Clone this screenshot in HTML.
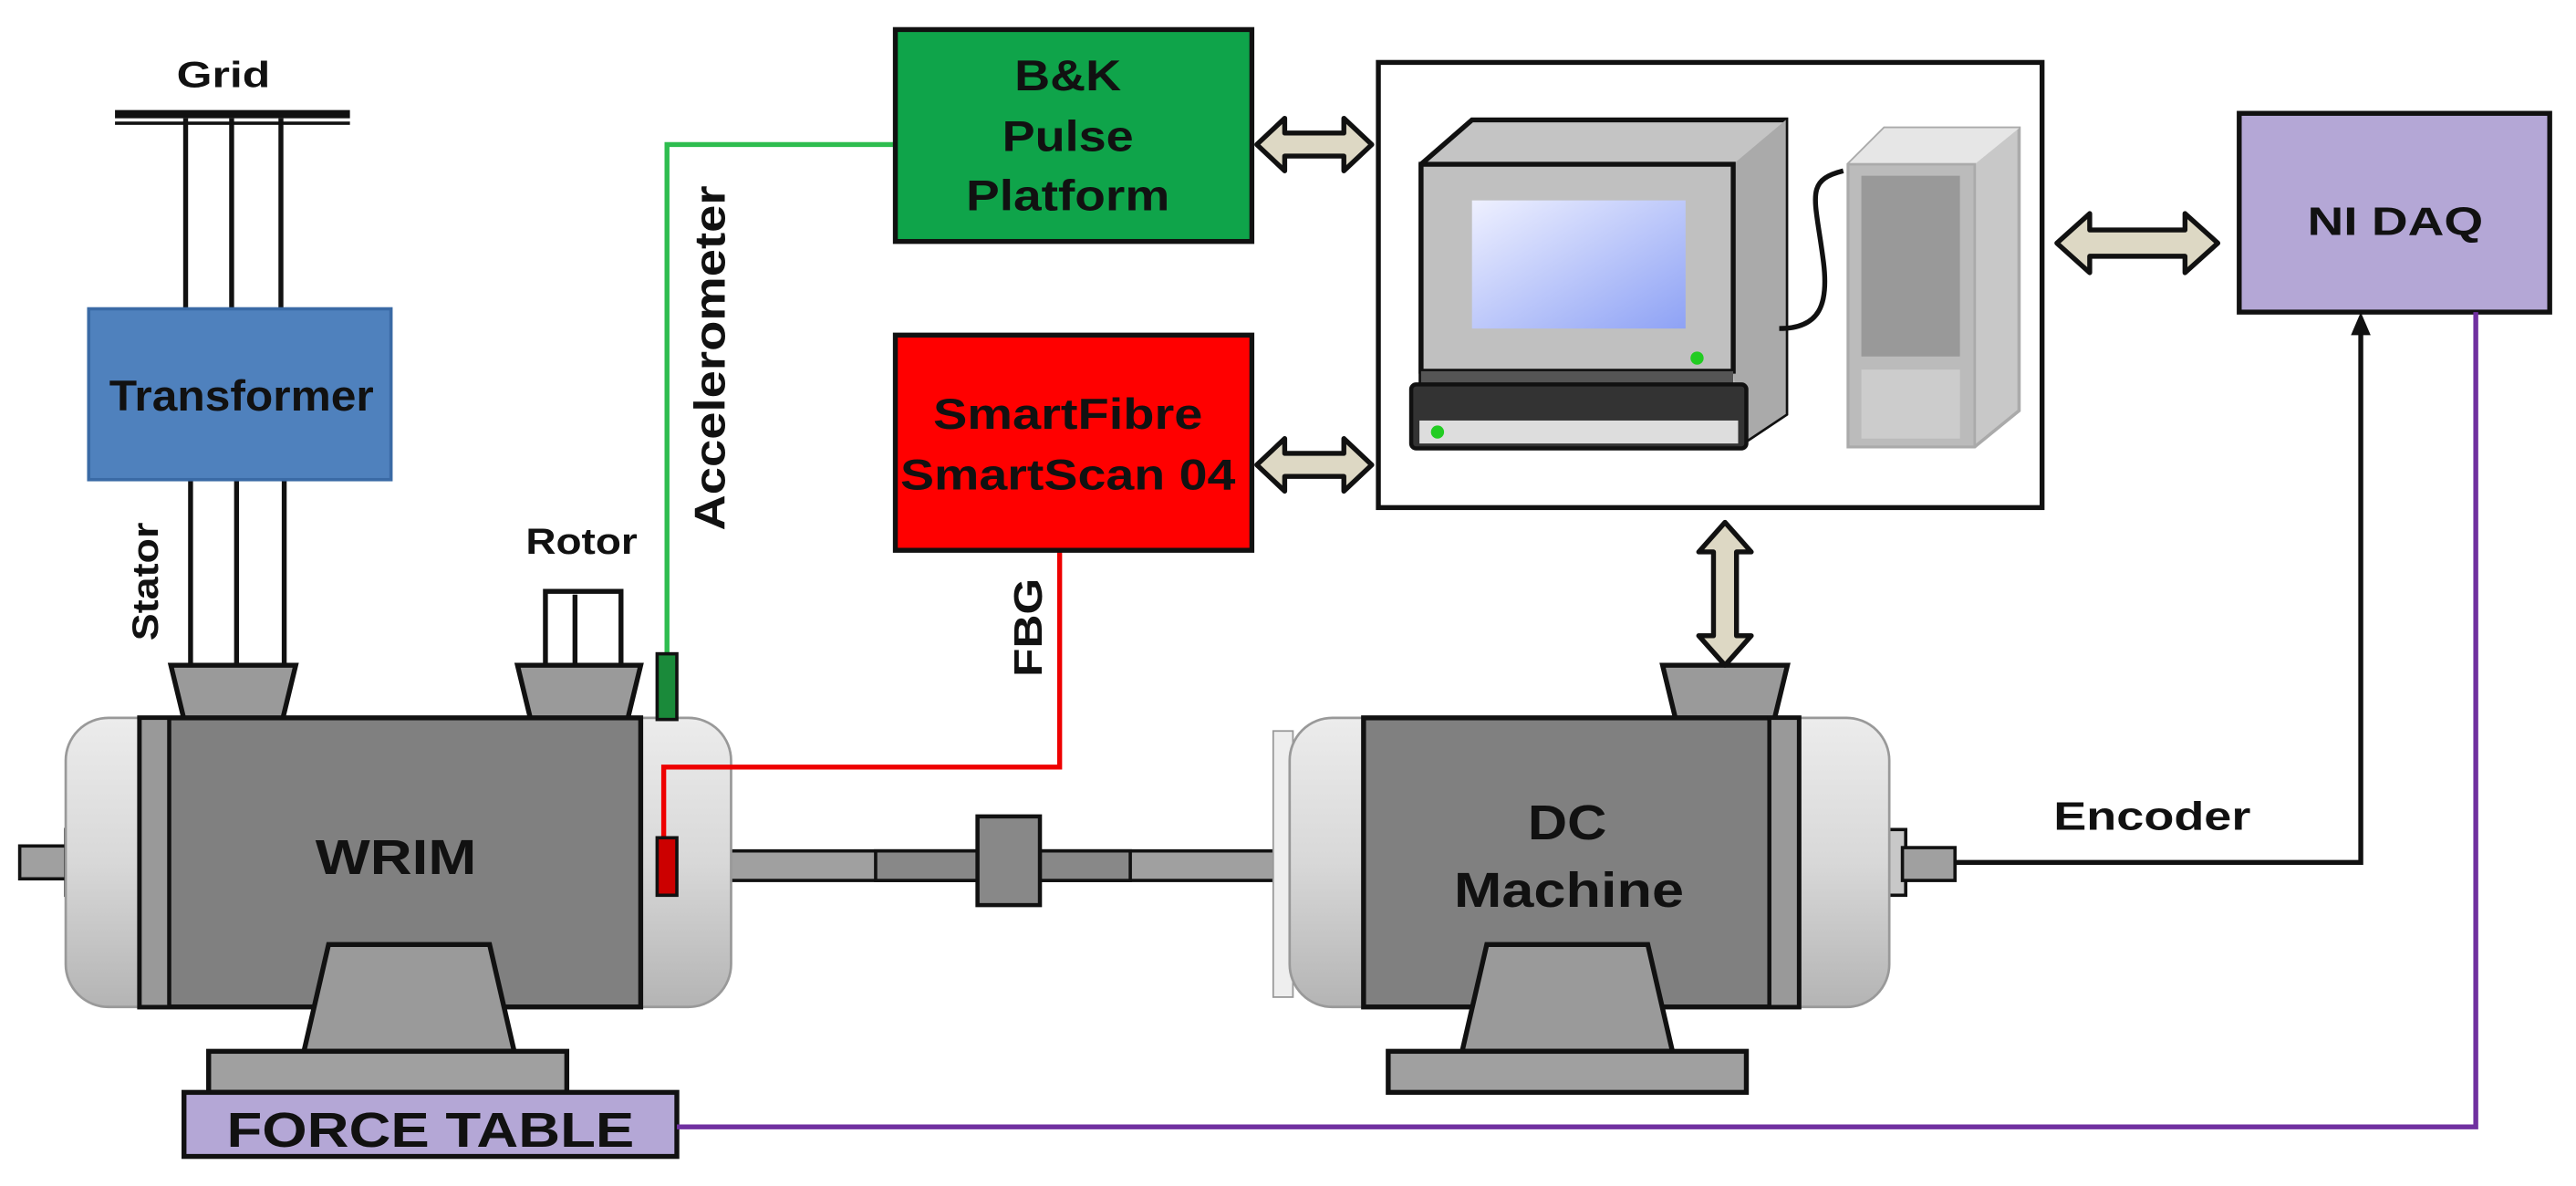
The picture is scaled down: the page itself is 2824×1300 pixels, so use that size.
<!DOCTYPE html>
<html><head><meta charset="utf-8"><style>html,body{margin:0;padding:0;background:#fff}svg{display:block}</style></head>
<body>
<svg width="2824" height="1300" viewBox="0 0 1568 722" preserveAspectRatio="none" xmlns="http://www.w3.org/2000/svg" font-family="Liberation Sans, sans-serif" font-weight="bold">
<defs>
<linearGradient id="cap" x1="0" x2="0" y1="0" y2="1"><stop offset="0" stop-color="#ececec"/><stop offset="0.5" stop-color="#d8d8d8"/><stop offset="1" stop-color="#b4b4b4"/></linearGradient>
<linearGradient id="scr" x1="0" x2="1" y1="0" y2="1"><stop offset="0" stop-color="#eef0ff"/><stop offset="1" stop-color="#8ea2f5"/></linearGradient>
</defs>
<!-- Grid -->
<text x="136" y="53" font-size="22" text-anchor="middle" fill="#111" textLength="57" lengthAdjust="spacingAndGlyphs">Grid</text>
<rect x="70" y="67" width="143" height="5" fill="#111"/>
<rect x="70" y="74" width="143" height="2" fill="#111"/>
<g stroke="#111" stroke-width="3">
<line x1="113" y1="72" x2="113" y2="190"/><line x1="141" y1="72" x2="141" y2="190"/><line x1="171" y1="72" x2="171" y2="190"/>
<line x1="116" y1="292" x2="116" y2="405"/><line x1="144" y1="292" x2="144" y2="405"/><line x1="173" y1="292" x2="173" y2="405"/>
</g>
<rect x="54" y="188" width="184" height="104" fill="#4f81bd" stroke="#3a6aa5" stroke-width="2"/>
<text x="147" y="250" font-size="26" text-anchor="middle" fill="#111" textLength="161" lengthAdjust="spacingAndGlyphs">Transformer</text>
<text transform="translate(96,354) rotate(-90)" font-size="22" text-anchor="middle" fill="#111" textLength="72" lengthAdjust="spacingAndGlyphs">Stator</text>
<text x="354" y="337" font-size="22" text-anchor="middle" fill="#111" textLength="68" lengthAdjust="spacingAndGlyphs">Rotor</text>
<!-- rotor terminal -->
<rect x="332" y="360" width="46" height="46" fill="#fff" stroke="#111" stroke-width="3"/>
<line x1="350" y1="362" x2="350" y2="406" stroke="#111" stroke-width="3"/>
<!-- trapezoids -->
<polygon points="104,405 180,405 172,438 112,438" fill="#9a9a9a" stroke="#111" stroke-width="3"/>
<polygon points="315,405 390,405 382,438 323,438" fill="#9a9a9a" stroke="#111" stroke-width="3"/>
<polygon points="1012,405 1088,405 1080,438 1020,438" fill="#9a9a9a" stroke="#111" stroke-width="3"/>
<!-- shaft -->
<rect x="12" y="515" width="30" height="20" fill="#a0a0a0" stroke="#111" stroke-width="2"/>
<rect x="40" y="505" width="12" height="40" fill="#c8c8c8" stroke="#111" stroke-width="2"/>
<rect x="440" y="518" width="340" height="18" fill="#a0a0a0" stroke="#111" stroke-width="2"/>
<rect x="533" y="518" width="155" height="18" fill="#888" stroke="#111" stroke-width="2"/>
<rect x="595" y="497" width="38" height="54" fill="#888" stroke="#111" stroke-width="2.5"/>
<rect x="1148" y="505" width="12" height="40" fill="#c8c8c8" stroke="#111" stroke-width="2"/>
<rect x="1158" y="516" width="32" height="20" fill="#a0a0a0" stroke="#111" stroke-width="2"/>
<!-- WRIM -->
<rect x="40" y="437" width="405" height="176" rx="26" fill="url(#cap)" stroke="#999" stroke-width="1.5"/>
<rect x="85" y="437" width="305" height="176" fill="#808080" stroke="#111" stroke-width="3"/>
<rect x="85" y="437" width="18" height="176" fill="#999" stroke="#111" stroke-width="2.5"/>
<text x="241" y="532" font-size="30" text-anchor="middle" fill="#111" textLength="98" lengthAdjust="spacingAndGlyphs">WRIM</text>
<polygon points="200,575 298,575 313,640 185,640" fill="#9a9a9a" stroke="#111" stroke-width="3"/>
<rect x="127" y="640" width="218" height="25" fill="#a0a0a0" stroke="#111" stroke-width="3"/>
<rect x="112" y="665" width="300" height="39" fill="#b4a7d6" stroke="#111" stroke-width="3"/>
<text x="262" y="698" font-size="30" text-anchor="middle" fill="#111" textLength="248" lengthAdjust="spacingAndGlyphs">FORCE TABLE</text>
<!-- DC machine -->
<rect x="775" y="445" width="12" height="162" fill="#eee" stroke="#999" stroke-width="1"/>
<rect x="785" y="437" width="365" height="176" rx="26" fill="url(#cap)" stroke="#999" stroke-width="1.5"/>
<rect x="830" y="437" width="265" height="176" fill="#808080" stroke="#111" stroke-width="3"/>
<rect x="1077" y="437" width="18" height="176" fill="#999" stroke="#111" stroke-width="2.5"/>
<text x="954" y="511" font-size="30" text-anchor="middle" fill="#111" textLength="48" lengthAdjust="spacingAndGlyphs">DC</text>
<text x="955" y="552" font-size="30" text-anchor="middle" fill="#111" textLength="140" lengthAdjust="spacingAndGlyphs">Machine</text>
<polygon points="905,575 1003,575 1018,640 890,640" fill="#9a9a9a" stroke="#111" stroke-width="3"/>
<rect x="845" y="640" width="218" height="25" fill="#a0a0a0" stroke="#111" stroke-width="3"/>
<!-- accelerometer -->
<polyline points="406,398 406,88 545,88" fill="none" stroke="#2ebd4f" stroke-width="3"/>
<rect x="400" y="398" width="12" height="40" fill="#1a8a3a" stroke="#111" stroke-width="2"/>
<text transform="translate(441,218) rotate(-90)" font-size="26" text-anchor="middle" fill="#111" textLength="210" lengthAdjust="spacingAndGlyphs">Accelerometer</text>
<!-- FBG -->
<polyline points="645,335 645,467 404,467 404,512" fill="none" stroke="#e00" stroke-width="3"/>
<rect x="400" y="510" width="12" height="35" fill="#c00" stroke="#111" stroke-width="2"/>
<text transform="translate(634,382) rotate(-90)" font-size="24" text-anchor="middle" fill="#111" textLength="60" lengthAdjust="spacingAndGlyphs">FBG</text>
<!-- boxes -->
<rect x="545" y="18" width="217" height="129" fill="#0fa44a" stroke="#111" stroke-width="3"/>
<text x="650" y="55" font-size="26" text-anchor="middle" fill="#111" textLength="65" lengthAdjust="spacingAndGlyphs">B&amp;K</text>
<text x="650" y="92" font-size="26" text-anchor="middle" fill="#111" textLength="80" lengthAdjust="spacingAndGlyphs">Pulse</text>
<text x="650" y="128" font-size="26" text-anchor="middle" fill="#111" textLength="124" lengthAdjust="spacingAndGlyphs">Platform</text>
<rect x="545" y="204" width="217" height="131" fill="#f00" stroke="#111" stroke-width="3"/>
<text x="650" y="261" font-size="26" text-anchor="middle" fill="#111" textLength="164" lengthAdjust="spacingAndGlyphs">SmartFibre</text>
<text x="650" y="298" font-size="26" text-anchor="middle" fill="#111" textLength="204" lengthAdjust="spacingAndGlyphs">SmartScan 04</text>
<rect x="1363" y="69" width="189" height="121" fill="#b4a7d6" stroke="#111" stroke-width="3"/>
<text x="1458" y="143" font-size="24" text-anchor="middle" fill="#111" textLength="107" lengthAdjust="spacingAndGlyphs">NI DAQ</text>
<!-- computer -->
<rect x="839" y="38" width="404" height="271" fill="#fff" stroke="#111" stroke-width="3"/>
<polygon points="865,100 896,73 1087,73 1087,252 1060,270 865,270" fill="#c4c4c4" stroke="#111" stroke-width="3"/>
<polygon points="1055,100 1087,73 1087,252 1060,270 1055,226" fill="#aaa"/>
<rect x="865" y="100" width="190" height="126" fill="#c0c0c0" stroke="#111" stroke-width="3"/>
<rect x="896" y="122" width="130" height="78" fill="url(#scr)"/>
<rect x="865" y="226" width="190" height="10" fill="#555"/>
<rect x="859" y="234" width="204" height="39" rx="3" fill="#333" stroke="#111" stroke-width="2.5"/>
<rect x="864" y="256" width="194" height="14" fill="#ddd"/>
<circle cx="875" cy="263" r="4" fill="#2c2"/><circle cx="1033" cy="218" r="4" fill="#2c2"/>
<path d="M1083,200 C1108,200 1113,185 1110,160 C1105,120 1098,110 1122,104" fill="none" stroke="#111" stroke-width="3"/>
<polygon points="1125,100 1147,78 1229,78 1229,250 1202,272 1125,272" fill="#c8c8c8" stroke="#aaa" stroke-width="2"/>
<polygon points="1125,100 1147,78 1229,78 1202,100" fill="#e6e6e6"/>
<rect x="1125" y="100" width="77" height="172" fill="#bbb" stroke="#aaa" stroke-width="1.5"/>
<rect x="1133" y="107" width="60" height="110" fill="#999"/>
<rect x="1133" y="225" width="60" height="42" fill="#ccc"/>
<!-- double arrows -->
<g fill="#ddd8c4" stroke="#111" stroke-width="3" stroke-linejoin="round">
<polygon points="765,88 782,72 782,81 818,81 818,72 835,88 818,104 818,95 782,95 782,104"/>
<polygon points="765,283 782,267 782,276 818,276 818,267 835,283 818,299 818,290 782,290 782,299"/>
<polygon points="1252,148 1272,130 1272,140 1330,140 1330,130 1350,148 1330,166 1330,156 1272,156 1272,166"/>
<polygon points="1050,318 1066,336 1057,336 1057,387 1066,387 1050,405 1034,387 1043,387 1043,336 1034,336"/>
</g>
<!-- encoder -->
<polyline points="1190,525 1437,525 1437,198" fill="none" stroke="#111" stroke-width="3"/>
<polygon points="1437,190 1431,204 1443,204" fill="#111"/>
<text x="1310" y="505" font-size="24" text-anchor="middle" fill="#111" textLength="120" lengthAdjust="spacingAndGlyphs">Encoder</text>
<!-- purple line -->
<polyline points="412,686 1507,686 1507,190" fill="none" stroke="#7030a0" stroke-width="3"/>
</svg>
</body></html>
